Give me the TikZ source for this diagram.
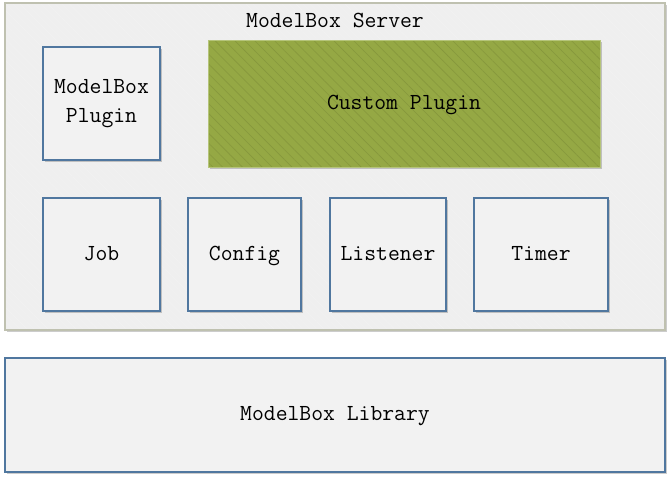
\documentclass[tikz,border=0pt]{standalone}
\usepackage{fontspec}
\usetikzlibrary{patterns.meta,shadows}
\definecolor{boxblue}{HTML}{50779F}
\definecolor{boxfill}{HTML}{F2F2F2}
\definecolor{srvfill}{HTML}{EFEFEF}
\definecolor{srvline}{HTML}{BFC1B0}
\definecolor{olivefill}{HTML}{95A844}
\definecolor{oliveline}{HTML}{B5C47A}
\begin{document}
\begin{tikzpicture}[x=1pt,y=-1pt,
mbtext/.style={font=\ttfamily\fontsize{23}{29}\selectfont, text=black, align=center, text height=16pt, text depth=5pt},
mbshadow/.style={drop shadow={shadow xshift=1.5pt,shadow yshift=-2pt,opacity=0.2,fill=black}},
modbox/.style={rectangle, draw=boxblue, fill=boxfill, line width=1.5pt, inner sep=2pt, mbtext, mbshadow},
serverbox/.style={rectangle, draw=srvline, line width=1.5pt, mbshadow,
  preaction={fill=srvfill}, pattern={Lines[angle=-45,distance=5pt,line width=0.4pt]}, pattern color=black!5},
custombox/.style={rectangle, draw=oliveline, line width=1pt, mbshadow,
  preaction={fill=olivefill}, pattern={Lines[angle=-45,distance=7pt,line width=0.6pt]}, pattern color=olivefill!90!black}
]
    \useasboundingbox (0,0) rectangle (671,479);

    \node[serverbox, minimum width=660, minimum height=327] (server) at (335,166.5) {};
    \node[mbtext] (title) at (335,22) {ModelBox Server};

    \node[modbox, minimum width=117, minimum height=113, text height=, text depth=] (plugin) at (101.5,103.5) {ModelBox\\Plugin};
    \node[custombox, minimum width=392, minimum height=127] (custom) at (404,103.5) {};
    \node[mbtext] (customtext) at (custom.center) {Custom Plugin};

    \node[modbox, minimum width=117, minimum height=113] (job) at (101.5,254.5) {Job};
    \node[modbox, minimum width=113, minimum height=113] (config) at (244.5,254.5) {Config};
    \node[modbox, minimum width=116, minimum height=113] (listener) at (388,254.5) {Listener};
    \node[modbox, minimum width=134, minimum height=113] (timer) at (541,254.5) {Timer};

    \node[modbox, minimum width=660, minimum height=114] (library) at (335,415) {ModelBox Library};
\end{tikzpicture}
\end{document}
